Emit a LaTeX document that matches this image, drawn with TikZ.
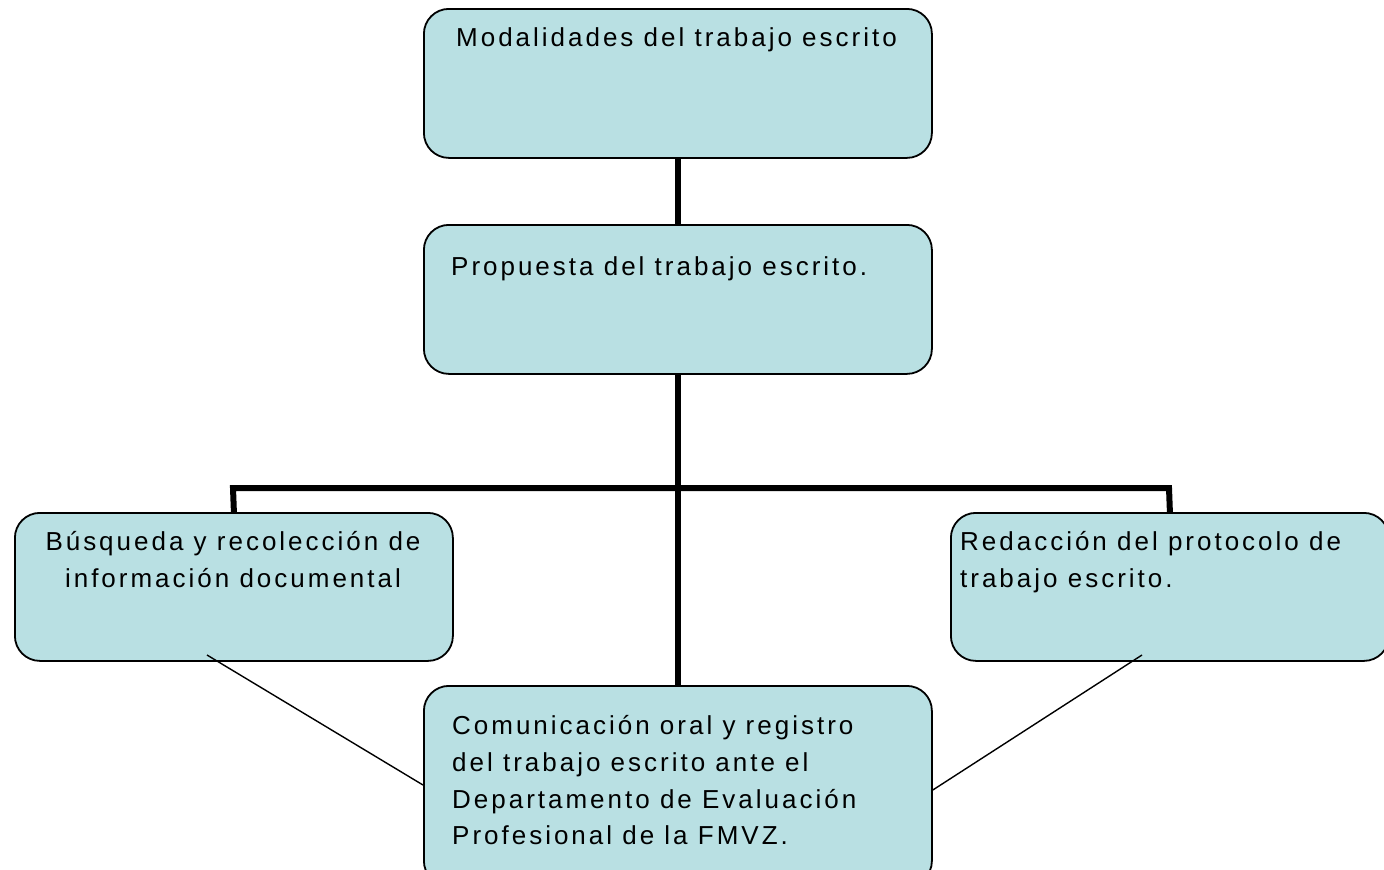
\documentclass[tikz,border=0pt]{standalone}
\usepackage{fontspec}
\newfontfamily\boxfont{Liberation Sans}[LetterSpace=11.5]
\definecolor{boxfill}{RGB}{185,224,227}
\begin{document}
\begin{tikzpicture}[x=1pt,y=-1pt,
  box/.style={draw=black, line width=1.8pt, fill=boxfill, rounded corners=25pt, inner sep=0pt, anchor=north west},
  txt/.style={anchor=base west, inner sep=0pt, font=\boxfont\fontsize{26}{37}\selectfont},
  txtc/.style={txt, anchor=base},
  thick line/.style={line width=6pt, line join=miter, line cap=butt},
  thin line/.style={line width=1.4pt}
]
\useasboundingbox (0,0) rectangle (1384,870);
\clip (0,0) rectangle (1384,870);
% boxes
\node[box, minimum width=508pt, minimum height=149pt] (top) at (423,8) {};
\node[box, minimum width=508pt, minimum height=149pt] (prop) at (423,224) {};
\node[box, minimum width=438pt, minimum height=148pt] (left) at (14,512) {};
\node[box, minimum width=438pt, minimum height=148pt] (right) at (950,512) {};
\node[box, minimum width=508pt, minimum height=200pt] (bot) at (423,685) {};
% thick connectors
\coordinate (barL) at (233,488);
\coordinate (barR) at (1169,488);
\draw[thick line] (top.south) -- (prop.north);
\draw[thick line] (prop.south) -- (bot.north);
\draw[thick line] (left.north) -- (barL) -- (barR) -- (right.north);
% thin connectors
\coordinate (lstart) at (207,655);
\coordinate (rstart) at (1142,655);
\draw[thin line] (lstart) -- (bot.west |- 0,785);
\draw[thin line] (rstart) -- (bot.east |- 0,790);
% texts
\node[txt] (t1) at (456,46) {Modalidades del trabajo escrito};
\node[txt] (t2) at (451,275) {Propuesta del trabajo escrito.};
\node[txtc] (t3a) at (233,550) {Búsqueda y recolección de};
\node[txtc] (t3b) at (233,587) {información documental};
\node[txt] (t4a) at (960,550) {Redacción del protocolo de};
\node[txt] (t4b) at (960,587) {trabajo escrito.};
\node[txt] (t5a) at (452,734) {Comunicación oral y registro};
\node[txt] (t5b) at (452,771) {del trabajo escrito ante el};
\node[txt] (t5c) at (452,808) {Departamento de Evaluación};
\node[txt] (t5d) at (452,844) {Profesional de la FMVZ.};
\end{tikzpicture}
\end{document}
